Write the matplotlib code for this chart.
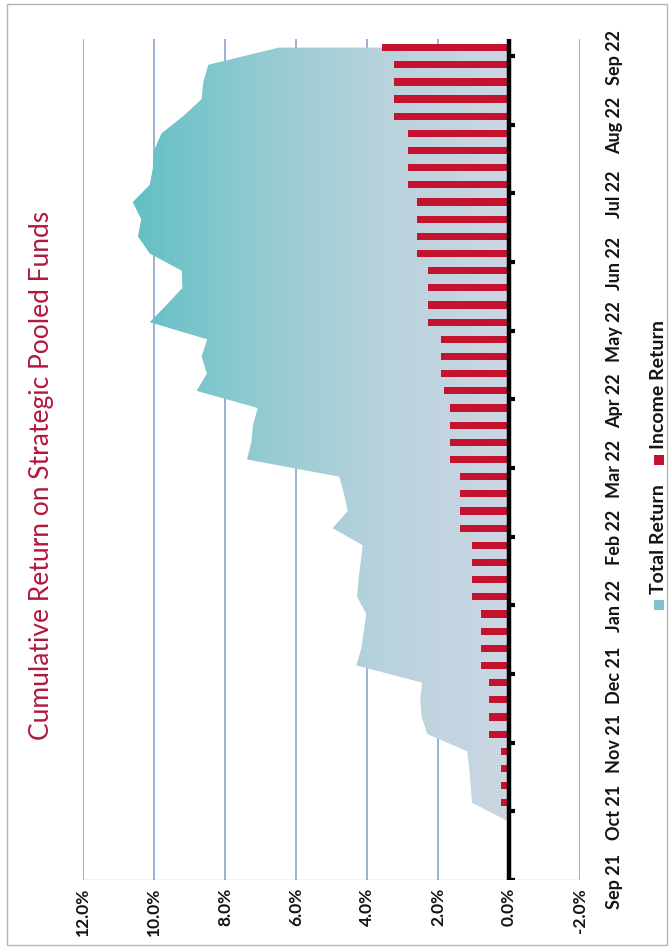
import numpy as np
import matplotlib
matplotlib.use('Agg')
import matplotlib.pyplot as plt
from matplotlib.colors import LinearSegmentedColormap
from matplotlib.patches import Rectangle

# ---------------- data ----------------
title = 'Cumulative Return on Strategic Pooled Funds'
month_labels = ['Sep 21', 'Oct 21', 'Nov 21', 'Dec 21', 'Jan 22', 'Feb 22', 'Mar 22',
                'Apr 22', 'May 22', 'Jun 22', 'Jul 22', 'Aug 22', 'Sep 22']
n_categories = 49          # weekly categories on the date axis
weeks_per_label = 4
total_start = 3            # first category holding a total-return point
income_start = 4           # first category holding an income bar
value_ticks = [12, 10, 8, 6, 4, 2, 0, -2]
value_tick_labels = ['12.0%', '10.0%', '8.0%', '6.0%', '4.0%', '2.0%', '0.0%', '-2.0%']

total_return = [0.10, 1.04, 1.08, 1.12, 1.18, 2.30, 2.46, 2.50, 2.45, 4.30,
                4.16, 4.09, 4.02, 4.28, 4.24, 4.18, 4.12, 4.97, 4.54, 4.65,
                4.78, 7.38, 7.26, 7.21, 7.08, 8.80, 8.51, 8.66, 8.50, 10.12,
                9.65, 9.20, 9.22, 10.12, 10.45, 10.36, 10.60, 10.12, 10.03, 10.00,
                9.79, 9.18, 8.66, 8.61, 8.47, 6.48]
income_return = [0.22, 0.22, 0.22, 0.22, 0.57, 0.57, 0.57, 0.57, 0.79, 0.79,
                 0.79, 0.79, 1.04, 1.04, 1.04, 1.04, 1.37, 1.37, 1.37, 1.37,
                 1.66, 1.66, 1.66, 1.66, 1.84, 1.91, 1.91, 1.91, 2.29, 2.29,
                 2.29, 2.29, 2.60, 2.60, 2.60, 2.60, 2.84, 2.84, 2.84, 2.84,
                 3.24, 3.24, 3.24, 3.24, 3.57]

# ---------------- figure ----------------
W, H = 671, 953
fig = plt.figure(figsize=(W / 100, H / 100), dpi=100)
fig.patch.set_facecolor('white')

FONT = ['Lato', 'DejaVu Sans']
RED = '#c4122f'
TXT = '#141414'

left_px, right_px, top_px, bottom_px = 83, 580, 40, 881
ax = fig.add_axes([left_px / W, 1 - bottom_px / H, (right_px - left_px) / W, (bottom_px - top_px) / H])
ax.set_xlim(12, -2)
ax.set_ylim(0, n_categories)
for s in ax.spines.values():
    s.set_visible(False)
ax.set_facecolor('none')

# gridlines (vertical, value axis)
ax.set_xticks(value_ticks)
ax.set_xticklabels(value_tick_labels, rotation=90, fontsize=12.5, family=FONT,
                   fontweight='bold', color=TXT)
ax.tick_params(axis='x', length=0, pad=5)
ax.grid(axis='x', color='#7f9cc8', lw=1.1, zorder=0)
ax.set_axisbelow(True)

# category labels on the right
label_pos = np.arange(0, n_categories, weeks_per_label)
ax.yaxis.tick_right()
ax.set_yticks(label_pos)
ax.set_yticklabels(month_labels, rotation=90, fontsize=13, family=FONT,
                   fontweight='bold', color=TXT, va='center')
ax.tick_params(axis='y', length=0, pad=19)

# bottom dotted border
ax.axhline(0, color='#8a8a8a', lw=1, ls=(0, (1, 1)), zorder=1)

# total return area with gradient
tr = np.asarray(total_return)
yt = np.arange(total_start, total_start + len(tr)) + 0.5
poly = ax.fill_betweenx(yt, 0, tr, color='none', lw=0, zorder=2)
cmap = LinearSegmentedColormap.from_list('tr', ['#cbd7e3', '#b8d2dc', '#8fcad1', '#5cbec3'])
grad = np.linspace(0, 1, 256)[None, :]
im = ax.imshow(grad, extent=(0, 11, 0, n_categories), aspect='auto', cmap=cmap,
               origin='lower', zorder=2, interpolation='bilinear')
im.set_clip_path(poly.get_paths()[0], transform=ax.transData)
ax.set_xlim(12, -2)
ax.set_ylim(0, n_categories)

# income bars
ir = np.asarray(income_return)
yi = np.arange(income_start, income_start + len(ir)) + 0.5
ax.barh(yi, ir, height=0.42, color=RED, zorder=3)

# zero axis with ticks
ax.axvline(0, color='black', lw=3.2, zorder=4)
for p in label_pos:
    ax.plot([0, -0.16], [p, p], color='black', lw=3, zorder=4, solid_capstyle='butt')

# title
fig.text(42 / W, 1 - 475 / H, title, rotation=90, ha='center', va='center',
         color='#b3173c', fontsize=19, family=FONT)

# legend (rotated)
leg_x = 659
items = [('Total Return', '#7ec3cf', 606, 594), ('Income Return', RED, 461, 449)]
for name, col, sq_y, txt_y in items:
    fig.add_artist(Rectangle(((leg_x - 5) / W, 1 - (sq_y + 5) / H), 10 / W, 10 / H,
                             transform=fig.transFigure, color=col, lw=0))
    fig.text((leg_x) / W, 1 - txt_y / H, name, rotation=90, ha='center', va='bottom',
             fontsize=14, family=FONT, fontweight='bold', color=TXT)

# outer border
fig.add_artist(Rectangle((7 / W, 7 / H), (667 - 7) / W, (948 - 7) / H, transform=fig.transFigure,
                         fill=False, edgecolor='#b5b5b5', lw=1))

fig.savefig('out.png', dpi=100)
